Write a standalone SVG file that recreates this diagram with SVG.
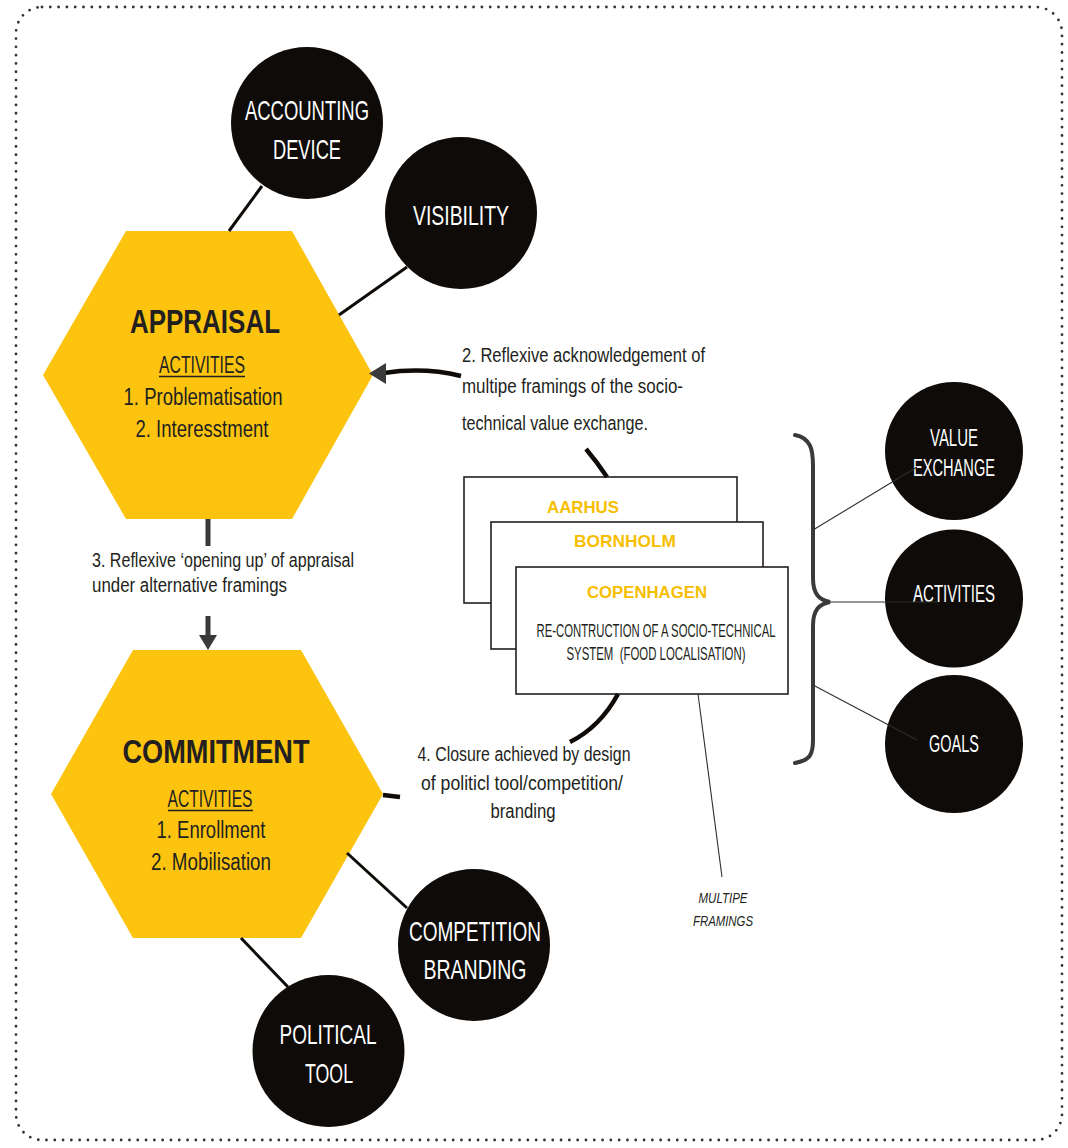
<svg xmlns="http://www.w3.org/2000/svg" width="1068" height="1148" viewBox="0 0 1068 1148">
  <style>
    text { font-family: "Liberation Sans", Arial, sans-serif; }
    .hex { fill: #FCC40F; }
    .circ { fill: #0E0B08; }
    .clabel { fill: #FFFFFF; font-size: 28px; text-anchor: middle; }
    .clabel-s { fill: #FFFFFF; font-size: 23px; text-anchor: middle; }
    .title { fill: #231F20; font-size: 34px; font-weight: bold; text-anchor: middle; }
    .body { fill: #231F20; font-size: 23.5px; text-anchor: middle; }
    .note { fill: #231F20; font-size: 19.5px; }
    .city { fill: #F7BE00; font-size: 17px; font-weight: bold; text-anchor: middle; }
    .boxtxt { fill: #231F20; font-size: 18px; text-anchor: middle; }
    .box { fill: #FFFFFF; stroke: #231F20; stroke-width: 1.6; }
    .link { stroke: #0E0B08; stroke-width: 3; fill: none; }
    .thin { stroke: #2E2E2E; stroke-width: 1.1; fill: none; }
    .flow { stroke: #0E0B08; stroke-width: 4.5; fill: none; }
    .grey { stroke: #3A3A3A; stroke-width: 5; fill: none; }
    .head { fill: #3A3A3A; }
    .uline { stroke: #231F20; stroke-width: 1.5; }
    .tag { fill: #231F20; font-size: 15.5px; font-style: italic; text-anchor: middle; }
  </style>

  <!-- dotted frame -->
  <rect x="16" y="7" width="1046" height="1133" rx="26" ry="26" fill="none" stroke="#333" stroke-width="2.8" stroke-linecap="round" stroke-dasharray="0 8.3"/>

  <!-- nodes -->
  <g id="accounting-device">
    <circle class="circ" cx="307" cy="123" r="76"/>
    <text class="clabel" x="307" y="120" textLength="124" lengthAdjust="spacingAndGlyphs">ACCOUNTING</text>
    <text class="clabel" x="307" y="159" textLength="68" lengthAdjust="spacingAndGlyphs">DEVICE</text>
  </g>

  <g id="visibility">
    <circle class="circ" cx="461" cy="213" r="76"/>
    <text class="clabel" x="461" y="225" textLength="96" lengthAdjust="spacingAndGlyphs">VISIBILITY</text>
  </g>

  <g id="appraisal">
    <polygon class="hex" points="126,231 292,231 373,375 292,519 126,519 43,375"/>
    <text class="title" x="205" y="333" textLength="150" lengthAdjust="spacingAndGlyphs">APPRAISAL</text>
    <text class="body" x="202" y="373" textLength="86" lengthAdjust="spacingAndGlyphs">ACTIVITIES</text>
    <line class="uline" x1="159" y1="376.5" x2="245" y2="376.5"/>
    <text class="body" x="203" y="405" textLength="159" lengthAdjust="spacingAndGlyphs">1. Problematisation</text>
    <text class="body" x="202" y="437" textLength="133" lengthAdjust="spacingAndGlyphs">2. Interesstment</text>
  </g>

  <g id="commitment">
    <polygon class="hex" points="133,650 301,650 383,794 301,938 133,938 51,794"/>
    <text class="title" x="216" y="763" textLength="187" lengthAdjust="spacingAndGlyphs">COMMITMENT</text>
    <text class="body" x="210" y="807" textLength="85" lengthAdjust="spacingAndGlyphs">ACTIVITIES</text>
    <line class="uline" x1="168" y1="810.5" x2="253" y2="810.5"/>
    <text class="body" x="211" y="838" textLength="109" lengthAdjust="spacingAndGlyphs">1. Enrollment</text>
    <text class="body" x="211" y="870" textLength="120" lengthAdjust="spacingAndGlyphs">2. Mobilisation</text>
  </g>

  <g id="competition-branding">
    <circle class="circ" cx="474" cy="945" r="76"/>
    <text class="clabel" x="475" y="941" textLength="132" lengthAdjust="spacingAndGlyphs">COMPETITION</text>
    <text class="clabel" x="475" y="979" textLength="103" lengthAdjust="spacingAndGlyphs">BRANDING</text>
  </g>

  <g id="political-tool">
    <circle class="circ" cx="328.5" cy="1051" r="76"/>
    <text class="clabel" x="328" y="1044" textLength="97" lengthAdjust="spacingAndGlyphs">POLITICAL</text>
    <text class="clabel" x="329" y="1083" textLength="48" lengthAdjust="spacingAndGlyphs">TOOL</text>
  </g>

  <g id="framings">
    <rect class="box" x="464" y="477" width="273" height="126"/>
    <text class="city" x="583" y="513" textLength="72" lengthAdjust="spacingAndGlyphs">AARHUS</text>
    <rect class="box" x="491" y="522" width="272" height="127"/>
    <text class="city" x="625" y="547" textLength="102" lengthAdjust="spacingAndGlyphs">BORNHOLM</text>
    <rect class="box" x="516" y="567" width="272" height="127"/>
    <text class="city" x="647" y="598" textLength="120" lengthAdjust="spacingAndGlyphs">COPENHAGEN</text>
    <text class="boxtxt" x="656" y="637" textLength="239" lengthAdjust="spacingAndGlyphs">RE-CONTRUCTION OF A SOCIO-TECHNICAL</text>
    <text class="boxtxt" x="656" y="660" textLength="179" lengthAdjust="spacingAndGlyphs" xml:space="preserve">SYSTEM  (FOOD LOCALISATION)</text>
  </g>

  <g id="value-exchange">
    <circle class="circ" cx="954" cy="451" r="69"/>
    <text class="clabel-s" x="954" y="446" textLength="48" lengthAdjust="spacingAndGlyphs">VALUE</text>
    <text class="clabel-s" x="954" y="476" textLength="82" lengthAdjust="spacingAndGlyphs">EXCHANGE</text>
  </g>

  <g id="activities">
    <circle class="circ" cx="954" cy="598.5" r="69"/>
    <text class="clabel-s" x="954" y="602" textLength="82" lengthAdjust="spacingAndGlyphs">ACTIVITIES</text>
  </g>

  <g id="goals">
    <circle class="circ" cx="954" cy="744" r="69"/>
    <text class="clabel-s" x="954" y="752" textLength="50" lengthAdjust="spacingAndGlyphs">GOALS</text>
  </g>

  <!-- connectors -->
  <g id="connectors">
    <line class="link" x1="262" y1="186" x2="229" y2="231"/>
    <line class="link" x1="407" y1="267" x2="339" y2="315"/>
    <line class="link" x1="347" y1="853" x2="407" y2="908"/>
    <line class="link" x1="241" y1="938" x2="288" y2="987"/>

    <!-- loop of reflexive framing -->
    <path class="flow" d="M461,376 Q424,367 384,373"/>
    <polygon class="head" points="369,373.5 386,363 386,384"/>
    <path class="flow" d="M586,449 Q597,462 607,477"/>
    <path class="flow" d="M618,694 Q600,727 570,742"/>
    <path class="flow" d="M383,795 L400,797"/>

    <!-- appraisal to commitment -->
    <line class="grey" x1="208" y1="519" x2="208" y2="546"/>
    <line class="grey" x1="208" y1="616" x2="208" y2="637"/>
    <polygon class="head" points="199,635 217,635 208,650"/>

    <!-- brace grouping the dimensions -->
    <path d="M795,435 C811,438 813,450 813,466 L813,578 C813,594 819,600 830,602 C819,604 813,610 813,626 L813,740 C813,755 810,760 795,763" fill="none" stroke="#3A3A3A" stroke-width="4" stroke-linecap="round"/>
    <line class="thin" x1="813" y1="530" x2="917" y2="467"/>
    <line class="thin" x1="830" y1="602" x2="937" y2="602"/>
    <line class="thin" x1="813" y1="685" x2="917" y2="740"/>

    <line class="thin" x1="698" y1="694" x2="722" y2="877"/>
  </g>

  <!-- annotations -->
  <g id="label-2">
    <text class="note" x="462" y="362" textLength="243" lengthAdjust="spacingAndGlyphs">2. Reflexive acknowledgement of</text>
    <text class="note" x="462" y="393" textLength="221" lengthAdjust="spacingAndGlyphs">multipe framings of the socio-</text>
    <text class="note" x="462" y="430" textLength="186" lengthAdjust="spacingAndGlyphs">technical value exchange.</text>
  </g>
  <g id="label-3">
    <text class="note" x="92" y="567" textLength="262" lengthAdjust="spacingAndGlyphs">3. Reflexive ‘opening up’ of appraisal</text>
    <text class="note" x="92" y="592" textLength="195" lengthAdjust="spacingAndGlyphs">under alternative framings</text>
  </g>
  <g id="label-4">
    <text class="note" x="524" y="761" text-anchor="middle" textLength="213" lengthAdjust="spacingAndGlyphs">4. Closure achieved by design</text>
    <text class="note" x="522" y="790" text-anchor="middle" textLength="202" lengthAdjust="spacingAndGlyphs">of politicl tool/competition/</text>
    <text class="note" x="523" y="818" text-anchor="middle" textLength="65" lengthAdjust="spacingAndGlyphs">branding</text>
  </g>
  <g id="label-framings">
    <text class="tag" x="723" y="903" textLength="49" lengthAdjust="spacingAndGlyphs">MULTIPE</text>
    <text class="tag" x="723" y="926" textLength="60" lengthAdjust="spacingAndGlyphs">FRAMINGS</text>
  </g>
</svg>
